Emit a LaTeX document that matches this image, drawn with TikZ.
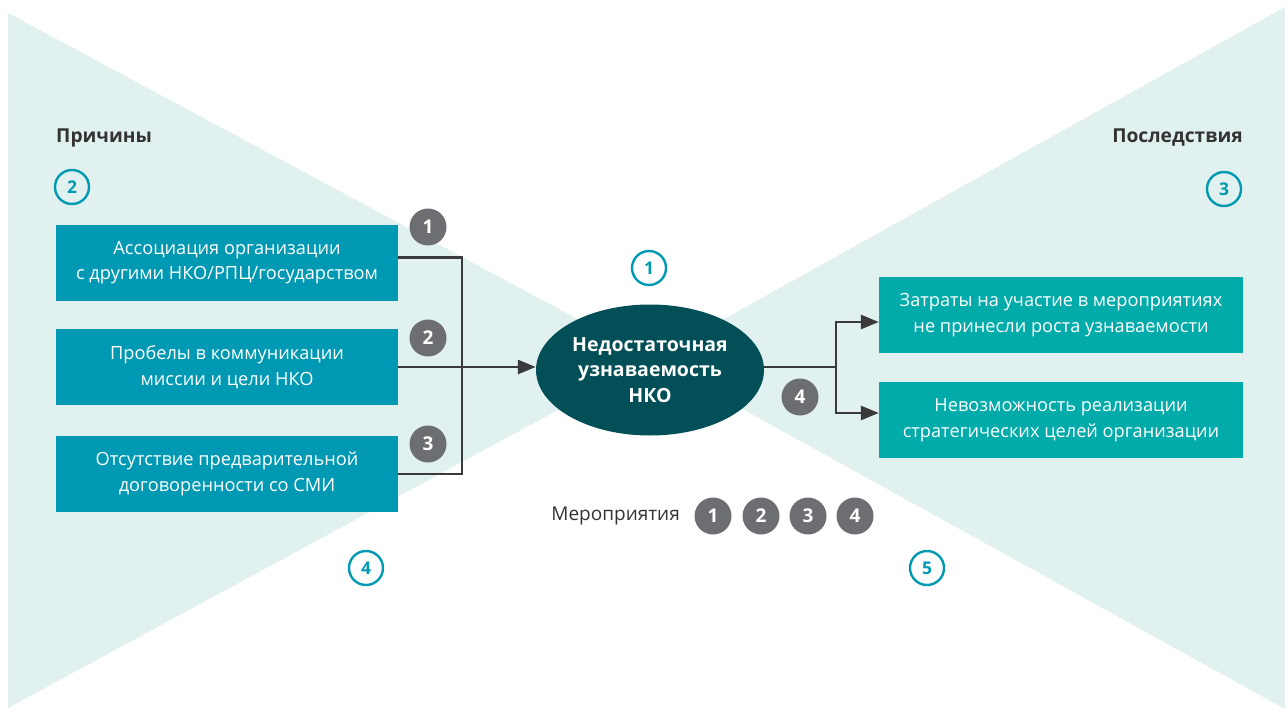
\documentclass[tikz,border=0pt]{standalone}
\usepackage{fontspec}
\setmainfont{Open Sans}
\usetikzlibrary{arrows.meta,shapes.geometric,calc}
\definecolor{bgmint}{HTML}{E1F1EF}
\definecolor{cblue}{HTML}{0099B3}
\definecolor{cteal}{HTML}{00ABAA}
\definecolor{cdark}{HTML}{034F58}
\definecolor{cgrey}{HTML}{6D6E71}
\definecolor{cline}{HTML}{3A3A3C}
\definecolor{ctext}{HTML}{333333}
\tikzset{
  leftbox/.style={fill=cblue, text=white, minimum width=342pt, minimum height=76pt, align=center, inner sep=0pt, font=\fontsize{18.2}{25.5}\selectfont},
  rightbox/.style={fill=cteal, text=white, minimum width=364pt, minimum height=76pt, align=center, inner sep=0pt, font=\fontsize{18.2}{25.5}\selectfont},
  greydot/.style={circle, fill=cgrey, text=white, minimum size=37pt, inner sep=0pt, font=\bfseries\fontsize{19}{19}\selectfont},
  ringdot/.style={circle, draw=cblue, line width=2.4pt, text=cblue, minimum size=34pt, inner sep=0pt, font=\bfseries\fontsize{17.5}{17.5}\selectfont},
  conn/.style={draw=cline, line width=2.7pt},
  arr/.style={conn, -{Triangle[length=18pt,width=14pt]}},
  heading/.style={text=ctext, font=\bfseries\fontsize{19.2}{19.2}\selectfont, inner sep=0pt}
}
\begin{document}
\begin{tikzpicture}[x=1pt,y=-1pt]
\useasboundingbox (0,0) rectangle (1285,709);
% background bow-tie
\fill[bgmint] (8,13) -- (652,359) -- (8,708) -- cycle;
\fill[bgmint] (1285,7) -- (652,359) -- (1285,709) -- cycle;

% headings
\node[heading, anchor=west] (hl) at (56,138) {Причины};
\node[heading, anchor=east] (hr) at (1243,138) {Последствия};

% left boxes
\node[leftbox] (b1) at (227,262.5) {Ассоциация организации\\с другими НКО/РПЦ/государством};
\node[leftbox] (b2) at (227,367) {Пробелы в коммуникации\\миссии и цели НКО};
\node[leftbox] (b3) at (227,474) {Отсутствие предварительной\\договоренности со СМИ};

% right boxes
\node[rightbox] (ra) at (1061,315) {Затраты на участие в мероприятиях\\не принесли роста узнаваемости};
\node[rightbox] (rb) at (1061,420) {Невозможность реализации\\стратегических целей организации};

% central ellipse
\node[ellipse, fill=cdark, text=white, minimum width=228pt, minimum height=131pt, inner sep=0pt, align=center, font=\bfseries\fontsize{19.5}{25.5}\selectfont] (ell) at (650,370) {Недостаточная\\узнаваемость\\НКО};

% connectors left
\coordinate (jl) at (462,367);
\coordinate (s1) at ([yshift=5pt]b1.east);
\draw[conn] (s1) -- (s1 -| jl) -- (b3.east -| jl) -- (b3.east);
\draw[arr] (b2.east) -- (b2.east -| ell.west);

% connectors right
\coordinate (jr) at (836,367);
\coordinate (ta) at ([yshift=-7pt]ra.west);
\coordinate (tb) at ([yshift=7pt]rb.west);
\draw[conn] (ell.east |- jr) -- (jr);
\draw[arr] (jr) |- (ta);
\draw[arr] (jr) |- (tb);

% grey number dots
\node[greydot] (g1) at (428,227) {1};
\node[greydot] (g2) at (428,338) {2};
\node[greydot] (g3) at (428,444) {3};
\node[greydot] (g4) at (800,397) {4};

% legend
\node[text=ctext, anchor=east, inner sep=0pt, font=\fontsize{19}{19}\selectfont] (leg) at (680,516) {Мероприятия};
\node[greydot] (m1) at (713,516) {1};
\node[greydot] (m2) at (761,516) {2};
\node[greydot] (m3) at (808,516) {3};
\node[greydot] (m4) at (855,516) {4};

% ring markers
\node[ringdot] (r1) at (649,268) {1};
\node[ringdot] (r2) at (72,187) {2};
\node[ringdot] (r3) at (1224,189) {3};
\node[ringdot] (r4) at (366,568) {4};
\node[ringdot] (r5) at (927,568) {5};
\end{tikzpicture}
\end{document}
